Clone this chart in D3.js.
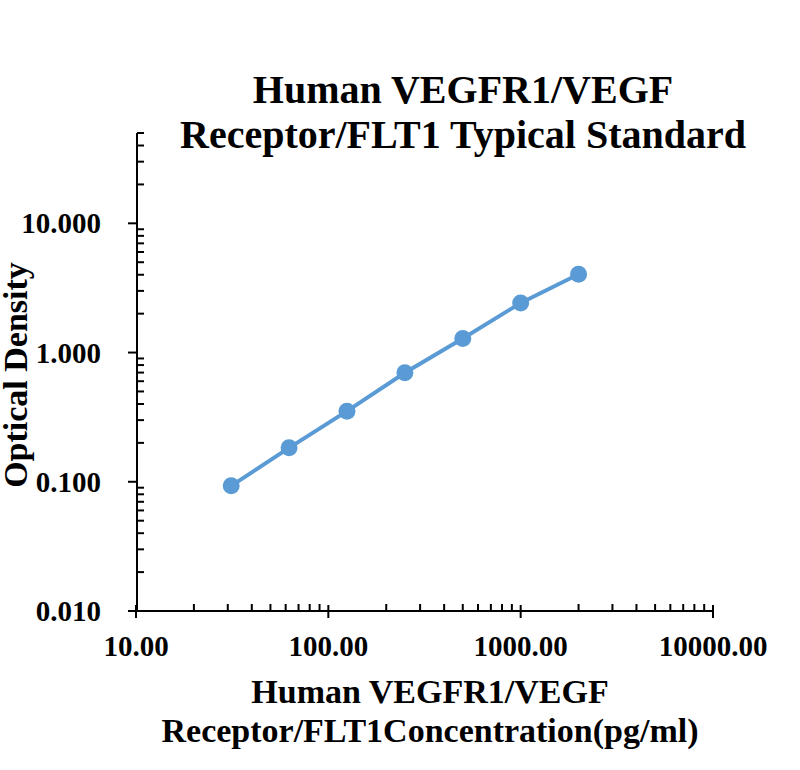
<!DOCTYPE html>
<html>
<head>
<meta charset="utf-8">
<script src="https://cdn.jsdelivr.net/npm/d3@7"></script>
<style>
  body { margin: 0; background: #fff; }
  text { font-family: "Liberation Serif", "Times New Roman", serif; font-weight: bold; fill: #000; }
</style>
</head>
<body>
<div id="chart"></div>
<script>
// data
const concentration = [31.25, 62.5, 125, 250, 500, 1000, 2000];
const opticalDensity = [0.093, 0.183, 0.352, 0.697, 1.285, 2.42, 4.04];
const xTickValues = [10, 100, 1000, 10000];
const yTickValues = [0.01, 0.1, 1, 10];
const titleLines = ["Human VEGFR1/VEGF", "Receptor/FLT1 Typical Standard"];
const xTitleLines = ["Human VEGFR1/VEGF", "Receptor/FLT1Concentration(pg/ml)"];

const svg = d3.select("#chart")
  .append("svg")
  .attr("width", 800)
  .attr("height", 770);

const x = d3.scaleLog().domain([10, 10000]).range([136, 713]);
const y = d3.scaleLog().domain([0.01, 50]).range([611, 133]);

// minor ticks 2..9 per decade
const xMinor = [];
[10, 100, 1000].forEach(d => { for (let k = 2; k <= 9; k++) xMinor.push(d * k); });
const yMinor = [];
[0.01, 0.1, 1, 10].forEach(d => { for (let k = 2; k <= 9; k++) if (d * k <= 50) yMinor.push(d * k); });

// x axis
const gx = svg.append("g");
gx.append("line").attr("x1", x(10)).attr("x2", x(10000)).attr("y1", 611).attr("y2", 611)
  .attr("stroke", "#000").attr("stroke-width", 2);
gx.selectAll("line.major").data(xTickValues).enter().append("line")
  .attr("class", "major")
  .attr("x1", d => x(d)).attr("x2", d => x(d))
  .attr("y1", 605).attr("y2", 618)
  .attr("stroke", "#000").attr("stroke-width", 2);
gx.selectAll("line.minor").data(xMinor).enter().append("line")
  .attr("class", "minor")
  .attr("x1", d => x(d)).attr("x2", d => x(d))
  .attr("y1", 604).attr("y2", 611)
  .attr("stroke", "#000").attr("stroke-width", 2);
gx.selectAll("text").data(xTickValues).enter().append("text")
  .attr("x", d => x(d)).attr("y", 656)
  .attr("text-anchor", "middle")
  .style("font-size", "29px")
  .text(d => d3.format(".2f")(d));

// y axis
const gy = svg.append("g");
gy.append("line").attr("x1", 137).attr("x2", 137).attr("y1", y(50)).attr("y2", 611)
  .attr("stroke", "#000").attr("stroke-width", 2);
gy.selectAll("line.major").data(yTickValues).enter().append("line")
  .attr("class", "major")
  .attr("x1", 128).attr("x2", 137)
  .attr("y1", d => y(d)).attr("y2", d => y(d))
  .attr("stroke", "#000").attr("stroke-width", 2);
gy.selectAll("line.minor").data(yMinor).enter().append("line")
  .attr("class", "minor")
  .attr("x1", 137).attr("x2", 144)
  .attr("y1", d => y(d)).attr("y2", d => y(d))
  .attr("stroke", "#000").attr("stroke-width", 2);
gy.selectAll("text").data(yTickValues).enter().append("text")
  .attr("x", 101).attr("y", d => y(d) + 10)
  .attr("text-anchor", "end")
  .style("font-size", "29px")
  .text(d => d3.format(".3f")(d));

// series
const line = d3.line().x((d, i) => x(concentration[i])).y(d => y(d));
svg.append("path")
  .datum(opticalDensity)
  .attr("fill", "none")
  .attr("stroke", "#5B9BD5")
  .attr("stroke-width", 4)
  .attr("d", line);
svg.selectAll("circle.pt").data(opticalDensity).enter().append("circle")
  .attr("class", "pt")
  .attr("cx", (d, i) => x(concentration[i]))
  .attr("cy", d => y(d))
  .attr("r", 8.5)
  .attr("fill", "#5B9BD5");

// titles
svg.selectAll("text.title").data(titleLines).enter().append("text")
  .attr("class", "title")
  .attr("x", 463).attr("y", (d, i) => 103 + i * 45)
  .attr("text-anchor", "middle")
  .style("font-size", "40px")
  .text(d => d);

svg.selectAll("text.xtitle").data(xTitleLines).enter().append("text")
  .attr("class", "xtitle")
  .attr("x", 430).attr("y", (d, i) => 703 + i * 39)
  .attr("text-anchor", "middle")
  .style("font-size", "34px")
  .text(d => d);

svg.append("text")
  .attr("transform", "translate(27,375) rotate(-90)")
  .attr("text-anchor", "middle")
  .style("font-size", "34px")
  .text("Optical Density");
</script>
</body>
</html>
